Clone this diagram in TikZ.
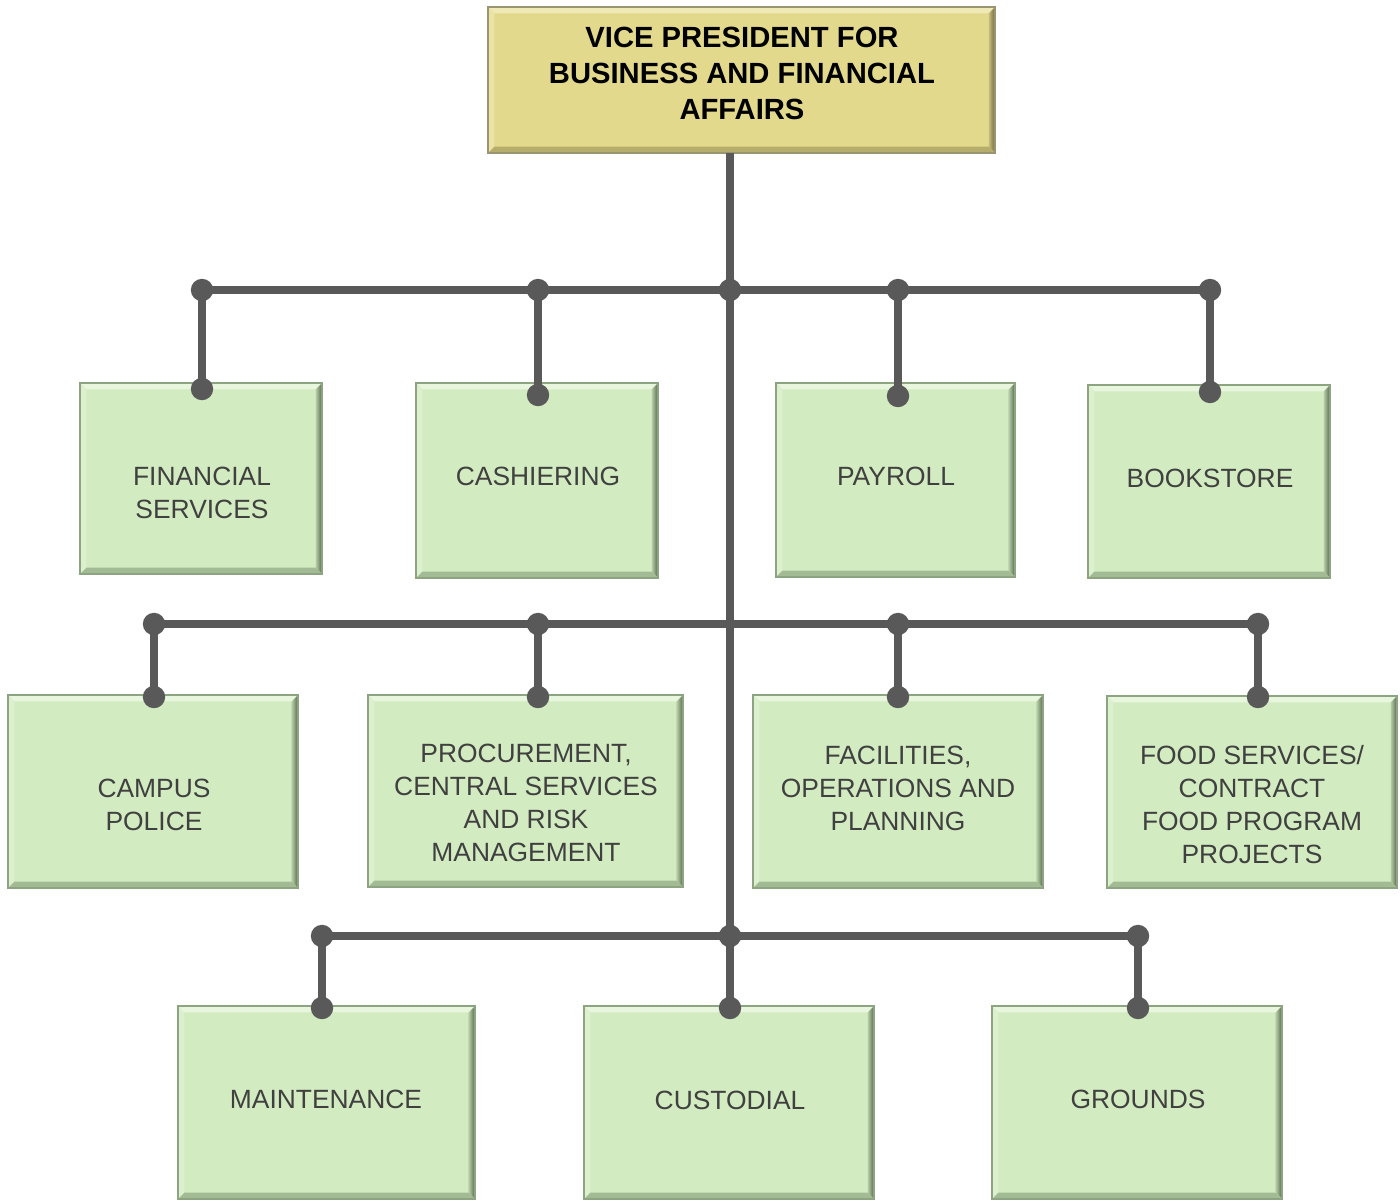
\documentclass[tikz,border=0pt]{standalone}
\usepackage{fontspec}
\setmainfont{Liberation Sans}
\usetikzlibrary{calc}
\definecolor{gfill}{HTML}{D2EBC0}
\definecolor{gtop}{HTML}{E8F6DE}
\definecolor{gleft}{HTML}{DCF0CF}
\definecolor{grightA}{HTML}{B7CFA8}
\definecolor{grightB}{HTML}{56664D}
\definecolor{gbot}{HTML}{A3BB95}
\definecolor{gedge}{HTML}{8DA480}
\definecolor{yfill}{HTML}{E3D98D}
\definecolor{ytop}{HTML}{F0E9B6}
\definecolor{yleft}{HTML}{EBE3A6}
\definecolor{yrightA}{HTML}{C9C07F}
\definecolor{yrightB}{HTML}{6E683E}
\definecolor{ybot}{HTML}{B6AD6C}
\definecolor{yedge}{HTML}{9A9470}
\definecolor{txt}{HTML}{404040}
\definecolor{conn}{HTML}{595959}
\tikzset{
  bevel/.style n args={5}{path picture={
    \fill[#1] (path picture bounding box.north west) -- (path picture bounding box.north east)
      -- ([xshift=-3.2pt,yshift=-3.2pt]path picture bounding box.north east)
      -- ([xshift=3.2pt,yshift=-3.2pt]path picture bounding box.north west) -- cycle;
    \fill[#2] (path picture bounding box.north west) -- (path picture bounding box.south west)
      -- ([xshift=3.2pt,yshift=3.2pt]path picture bounding box.south west)
      -- ([xshift=3.2pt,yshift=-3.2pt]path picture bounding box.north west) -- cycle;
    \shade[left color=#3, right color=#4] (path picture bounding box.north east) -- (path picture bounding box.south east)
      -- ([xshift=-3.2pt,yshift=3.2pt]path picture bounding box.south east)
      -- ([xshift=-3.2pt,yshift=-3.2pt]path picture bounding box.north east) -- cycle;
    \fill[#5] (path picture bounding box.south west) -- (path picture bounding box.south east)
      -- ([xshift=-3.2pt,yshift=3.2pt]path picture bounding box.south east)
      -- ([xshift=3.2pt,yshift=3.2pt]path picture bounding box.south west) -- cycle;
  }},
  gbox/.style={rectangle, inner sep=0pt, fill=gfill, draw=gedge, line width=0.6pt,
    bevel={gtop}{gleft}{grightA}{grightB}{gbot}},
  ybox/.style={rectangle, inner sep=0pt, fill=yfill, draw=yedge, line width=0.6pt,
    bevel={ytop}{yleft}{yrightA}{yrightB}{ybot}},
  gtext/.style={inner sep=0pt, align=center, text=txt, font=\fontsize{13.2}{16.5}\selectfont},
  ytext/.style={inner sep=0pt, align=center, text=black, font=\bfseries\fontsize{14.6}{18}\selectfont},
  link/.style={draw=conn, line width=4pt},
  dot/.style={fill=conn},
}
\begin{document}
\begin{tikzpicture}[x=0.5pt,y=-0.5pt]
\useasboundingbox[fill=white] (0,0) rectangle (1400,1199);

% boxes
\node[ybox, minimum width=253.5pt, minimum height=73pt] (vp) at (741.5,80) {};
\node[ytext] (vpt) at (742,73) {VICE PRESIDENT FOR\\BUSINESS AND FINANCIAL\\AFFAIRS};

\node[gbox, minimum width=121pt, minimum height=95.5pt] (fin) at (201,478.5) {};
\node[gtext] (fint) at (202,492.5) {FINANCIAL\\SERVICES};
\node[gbox, minimum width=121pt, minimum height=97.5pt] (cash) at (537,480.5) {};
\node[gtext] (casht) at (538,476) {CASHIERING};
\node[gbox, minimum width=119.5pt, minimum height=97pt] (pay) at (895.5,480) {};
\node[gtext] (payt) at (896,476) {PAYROLL};
\node[gbox, minimum width=121pt, minimum height=96.5pt] (book) at (1209,481.5) {};
\node[gtext] (bookt) at (1210,478) {BOOKSTORE};

\node[gbox, minimum width=145pt, minimum height=96.5pt] (campus) at (153,791.5) {};
\node[gtext] (campust) at (154,804.5) {CAMPUS\\POLICE};
\node[gbox, minimum width=157.5pt, minimum height=96pt] (proc) at (525.5,791) {};
\node[gtext] (proct) at (526,802.5) {PROCUREMENT,\\CENTRAL SERVICES\\AND RISK\\MANAGEMENT};
\node[gbox, minimum width=145pt, minimum height=96.5pt] (fac) at (898,791.5) {};
\node[gtext] (fact) at (898,788) {FACILITIES,\\OPERATIONS AND\\PLANNING};
\node[gbox, minimum width=145pt, minimum height=96pt] (food) at (1252,792) {};
\node[gtext] (foodt) at (1252,804.5) {FOOD SERVICES/\\CONTRACT\\FOOD PROGRAM\\PROJECTS};

\node[gbox, minimum width=148.5pt, minimum height=96.5pt] (maint) at (326.5,1102.5) {};
\node[gtext] (maintt) at (326,1099) {MAINTENANCE};
\node[gbox, minimum width=145pt, minimum height=96.5pt] (cust) at (729,1102.5) {};
\node[gtext] (custt) at (730,1100) {CUSTODIAL};
\node[gbox, minimum width=145pt, minimum height=96.5pt] (grnd) at (1137,1102.5) {};
\node[gtext] (grndt) at (1138,1099) {GROUNDS};

% junction coordinates
\coordinate (top) at (730,153);
\coordinate (r1c) at (730,290);
\coordinate (r1a) at (202,290); \coordinate (r1b) at (538,290);
\coordinate (r1d) at (898,290); \coordinate (r1e) at (1210,290);
\coordinate (r2a) at (154,624); \coordinate (r2b) at (538,624);
\coordinate (r2d) at (898,624); \coordinate (r2e) at (1258,624);
\coordinate (r3a) at (322,936); \coordinate (r3c) at (730,936); \coordinate (r3e) at (1138,936);
\coordinate (dfin) at (202,389); \coordinate (dcash) at (538,395);
\coordinate (dpay) at (898,396); \coordinate (dbook) at (1210,392);
\coordinate (dcampus) at (154,697); \coordinate (dproc) at (538,697);
\coordinate (dfac) at (898,697); \coordinate (dfood) at (1258,697);
\coordinate (dmaint) at (322,1008); \coordinate (dcust) at (730,1008); \coordinate (dgrnd) at (1138,1008);

% connectors
\draw[link] (top) -- (dcust);
\draw[link] (r1a) -- (r1e);
\draw[link] (r2a) -- (r2e);
\draw[link] (r3a) -- (r3e);
\draw[link] (r1a) -- (dfin);
\draw[link] (r1b) -- (dcash);
\draw[link] (r1d) -- (dpay);
\draw[link] (r1e) -- (dbook);
\draw[link] (r2a) -- (dcampus);
\draw[link] (r2b) -- (dproc);
\draw[link] (r2d) -- (dfac);
\draw[link] (r2e) -- (dfood);
\draw[link] (r3a) -- (dmaint);
\draw[link] (r3e) -- (dgrnd);

% dots
\foreach \p in {r1a,r1b,r1c,r1d,r1e,r2a,r2b,r2d,r2e,r3a,r3c,r3e,
  dfin,dcash,dpay,dbook,dcampus,dproc,dfac,dfood,dmaint,dcust,dgrnd}
  \fill[dot] (\p) circle[radius=5.6pt];
\end{tikzpicture}
\end{document}
